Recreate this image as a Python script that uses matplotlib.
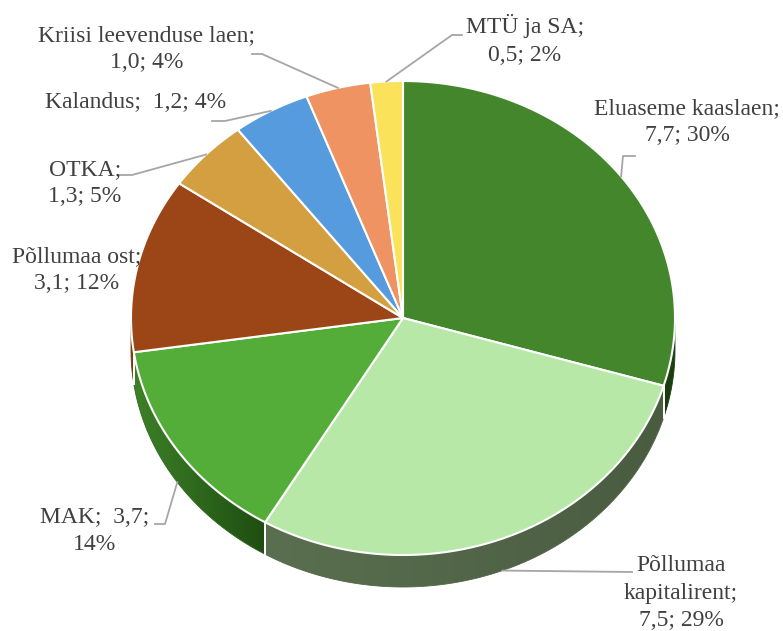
import numpy as np
import matplotlib
matplotlib.use("Agg")
import matplotlib.pyplot as plt
from matplotlib.patches import Polygon
from matplotlib.colors import to_rgb

# ---- data ----
names = ["Eluaseme kaaslaen", "Põllumaa\nkapitalirent", "MAK", "Põllumaa ost",
         "OTKA", "Kalandus", "Kriisi leevenduse laen", "MTÜ ja SA"]
values = [7.7, 7.5, 3.7, 3.1, 1.3, 1.2, 1.0, 0.5]
pcts = [30, 29, 14, 12, 5, 4, 4, 2]
label_fmt = ["{n};\n{v}; {p}%", "{n};\n{v}; {p}%", "{n};  {v};\n{p}%",
             "{n};\n{v}; {p}%", "{n};\n{v}; {p}%", "{n};  {v}; {p}%",
             "{n};\n{v}; {p}%", "{n};\n{v}; {p}%"]

# ---- style / layout ----
top_colors = ["#43862c", "#b8e8a8", "#54ad38", "#9c4517",
              "#d49f40", "#559bdd", "#ef9363", "#fae25a"]
# side colour at slice start / end angle
side_colors = [("#1f4211", "#1a3a0e"), ("#4a5c40", "#5a6f50"),
               ("#1f4d12", "#3c8127"), ("#7c3810", "#7c3810"),
               ("#8a6420", "#8a6420"), ("#2f5f95", "#2f5f95"),
               ("#a45c38", "#a45c38"), ("#a89530", "#a89530")]
label_pos = [(687, 122), (681, 593), (95, 531), (77, 270),
             (85, 183), (136, 102), (147, 49), (525, 40)]
# leader elbow + end points (None = no leader)
leaders = [[(623, 156), (635, 156)], [(632, 572)], [(165, 524), (155, 524)], None,
           [(132, 175), (120, 175)], [(225, 121), (212, 121)],
           [(262, 54), (252, 54)], [(452, 35), (462, 35)]]

CX, CY, RX, RY, DEPTH = 403, 318, 272, 237, 32
TXT = "#404040"


def edge(t_deg, dy=0.0):
    t = np.radians(t_deg)
    return CX + RX * np.sin(t), CY - RY * np.cos(t) + dy


fig = plt.figure(figsize=(7.83, 6.31), dpi=100)
ax = fig.add_axes([0, 0, 1, 1])

bounds = np.concatenate([[0], np.cumsum(values)]) / sum(values) * 360

# side walls (visible front half: 90..270 deg clockwise from top)
for i in range(len(values)):
    a0, a1 = max(bounds[i], 90), min(bounds[i + 1], 270)
    if a1 <= a0:
        continue
    ts = np.linspace(a0, a1, 100)
    xs, ys = edge(ts)
    pts = list(zip(xs, ys)) + list(zip(xs[::-1], ys[::-1] + DEPTH))
    c0, c1 = np.array(to_rgb(side_colors[i][0])), np.array(to_rgb(side_colors[i][1]))
    # gradient along x, oriented so c0 sits at the slice start
    xl, xr = xs.min(), xs.max()
    grad = np.linspace(0, 1, 256)[:, None]
    if xs[0] > xs[-1]:
        grad = grad[::-1]
    img = (c1 * grad + c0 * (1 - grad))[None, :, :]
    poly = Polygon(pts, closed=True, facecolor="none",
                   edgecolor=(c0 + c1) / 2, lw=0.6, zorder=1)
    ax.add_patch(poly)
    im = ax.imshow(img, extent=[xl, xr, ys.max() + DEPTH, ys.min()],
                   aspect="auto", interpolation="bilinear", zorder=0.9)
    im.set_clip_path(poly)
    for b in (bounds[i], bounds[i + 1]):
        if 90 < b < 270:
            x, y = edge(b)
            ax.plot([x, x], [y, y + DEPTH], color="white", lw=1.3, zorder=1.1)

# top faces
for i in range(len(values)):
    ts = np.linspace(bounds[i], bounds[i + 1], 120)
    xs, ys = edge(ts)
    pts = [(CX, CY)] + list(zip(xs, ys))
    ax.add_patch(Polygon(pts, closed=True, facecolor=top_colors[i],
                         edgecolor="white", lw=1.5, joinstyle="round", zorder=2))

# labels + leader lines
for i, n in enumerate(names):
    v = f"{values[i]:.1f}".replace(".", ",")
    txt = label_fmt[i].format(n=n, v=v, p=pcts[i])
    ax.text(*label_pos[i], txt, ha="center", va="center", fontsize=17,
            family="Liberation Serif", color=TXT, linespacing=1.4, zorder=4)
    if leaders[i] is None:
        continue
    mid = (bounds[i] + bounds[i + 1]) / 2
    ax_, ay_ = edge(mid, DEPTH if 90 < mid < 270 else 0)
    xs = [ax_] + [p[0] for p in leaders[i]]
    ys = [ay_] + [p[1] for p in leaders[i]]
    ax.plot(xs, ys, color="#a6a6a6", lw=1.3, zorder=3)

ax.set_xlim(0, 783)
ax.set_ylim(631, 0)
ax.axis("off")

fig.savefig("out.png", dpi=100)
